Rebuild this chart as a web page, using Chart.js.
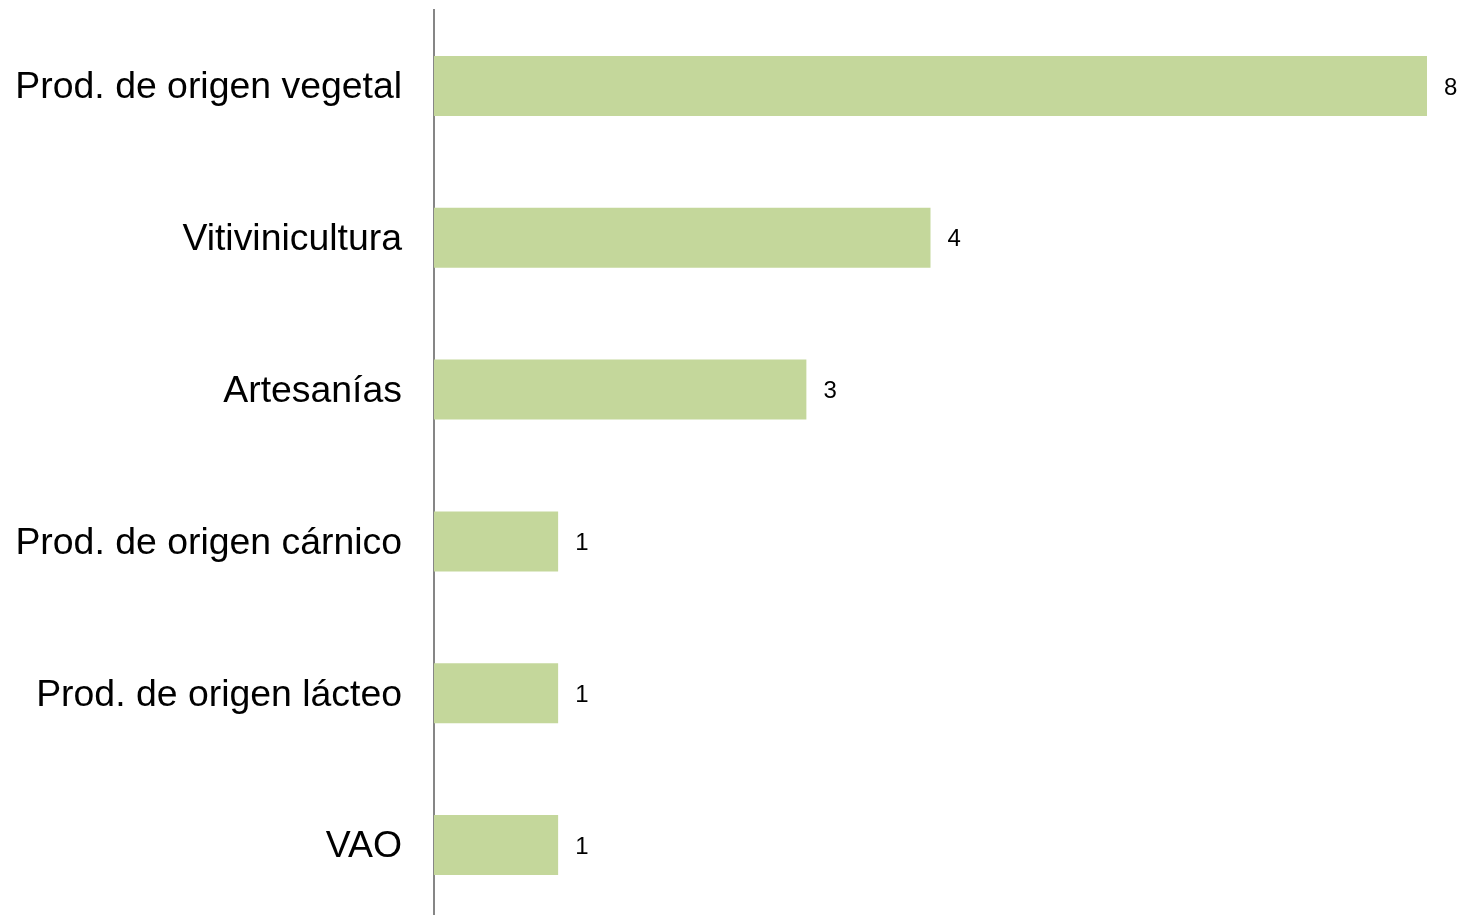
<!DOCTYPE html>
<html>
<head>
<meta charset="utf-8">
<script src="https://cdn.jsdelivr.net/npm/chart.js@4"></script>
<style>
  html, body { margin: 0; padding: 0; background: #fff; overflow: hidden; }
  canvas { display: block; }
</style>
</head>
<body>
<canvas id="chart" width="1465" height="921"></canvas>
<script>
const categories = [
  'Prod. de origen vegetal',
  'Vitivinicultura',
  'Artesanías',
  'Prod. de origen cárnico',
  'Prod. de origen lácteo',
  'VAO'
];
const values = [8, 4, 3, 1, 1, 1];

// draws the number just right of each bar
const valueLabels = {
  id: 'valueLabels',
  afterDatasetsDraw(chart) {
    const ctx = chart.ctx;
    const meta = chart.getDatasetMeta(0);
    ctx.save();
    ctx.font = '24px "Liberation Sans", Arial, sans-serif';
    ctx.fillStyle = '#000';
    ctx.textAlign = 'left';
    ctx.textBaseline = 'middle';
    meta.data.forEach((bar, i) => {
      ctx.fillText(String(values[i]), bar.x + 17, bar.y + 2);
    });
    ctx.restore();
  }
};

const ctx = document.getElementById('chart').getContext('2d');
new Chart(ctx, {
  type: 'bar',
  data: {
    labels: categories,
    datasets: [{
      data: values,
      backgroundColor: '#c4d79b',
      borderWidth: 0,
      barPercentage: 0.395,
      categoryPercentage: 1
    }]
  },
  options: {
    indexAxis: 'y',
    responsive: false,
    animation: false,
    layout: { padding: { top: 10, right: 38, bottom: 0, left: 0 } },
    plugins: {
      legend: { display: false },
      tooltip: { enabled: false }
    },
    scales: {
      x: {
        display: false,
        min: 0,
        max: 8
      },
      y: {
        grid: { display: false, drawTicks: false },
        border: { display: true, color: '#868686', width: 2 },
        ticks: {
          color: '#000',
          padding: 32,
          labelOffset: 2,
          font: { family: '"Liberation Sans", Arial, sans-serif', size: 37.4 }
        },
        afterFit(scale) {
          scale.width = 434;
          scale.paddingTop = 0;
          scale.paddingBottom = 0;
        }
      }
    }
  },
  plugins: [valueLabels]
});
</script>
</body>
</html>
